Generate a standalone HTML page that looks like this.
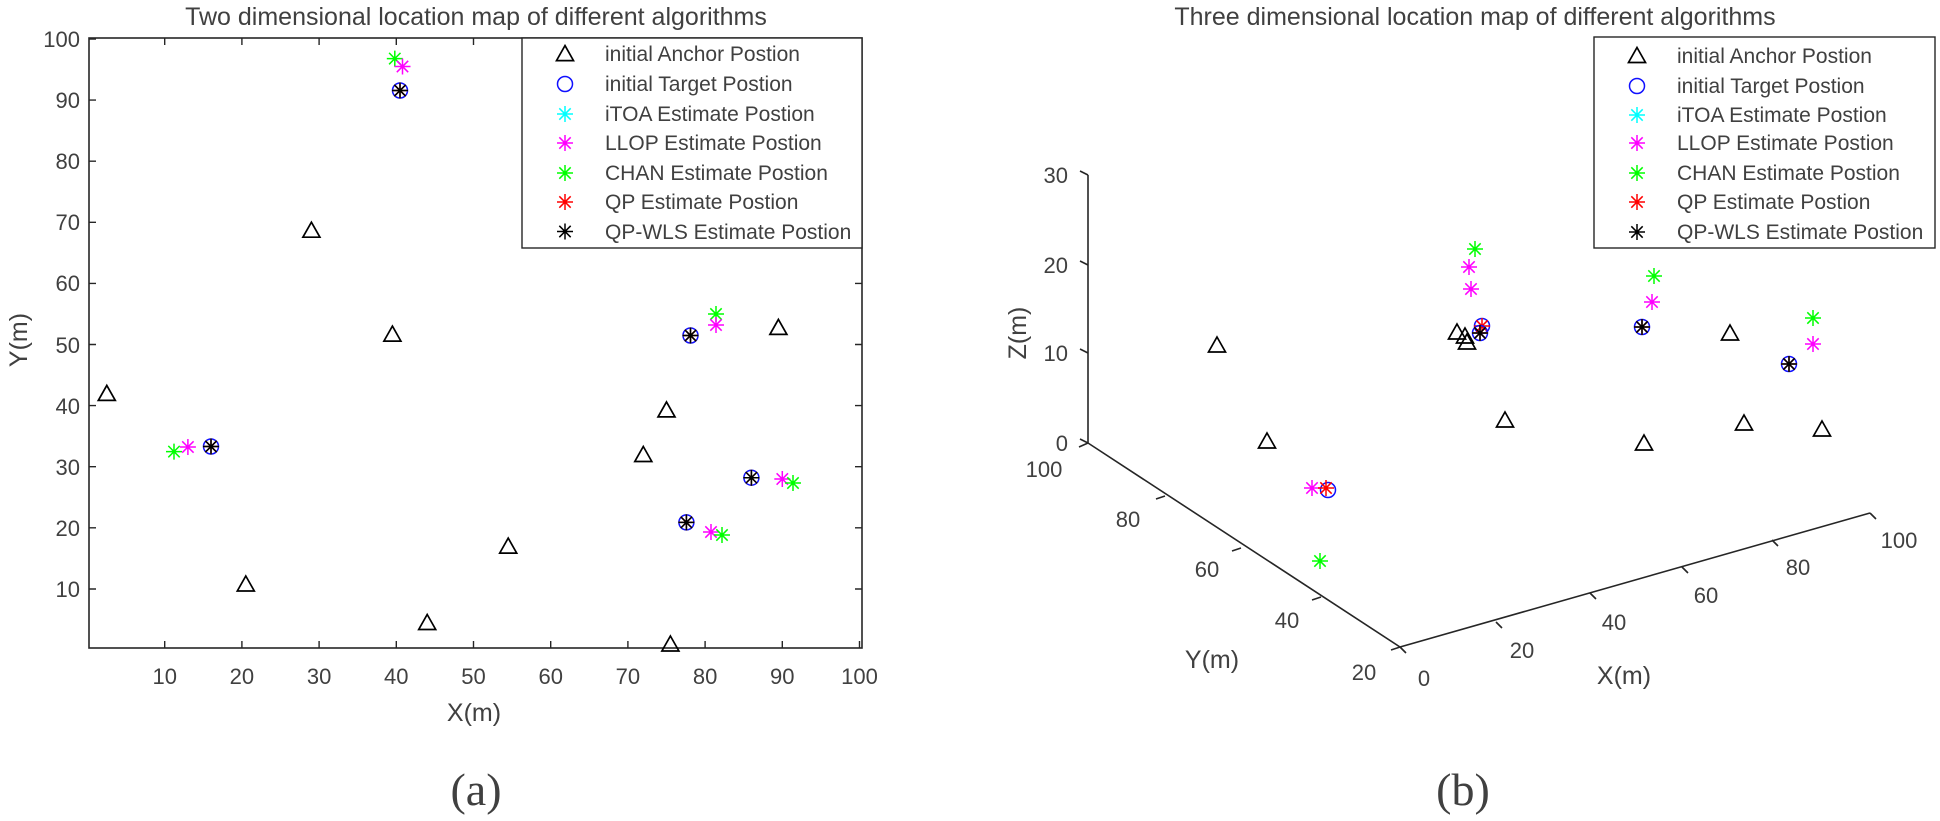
<!DOCTYPE html>
<html><head><meta charset="utf-8"><style>
html,body{margin:0;padding:0;background:#fff;}
svg{display:block;}
text{font-family:"Liberation Sans",sans-serif;fill:#404040;}
</style></head><body>
<svg width="1940" height="821" viewBox="0 0 1940 821" xmlns="http://www.w3.org/2000/svg">
<defs>
<g id="ast" stroke-width="1.5" fill="none"><path d="M-8 0H8M0-8V8M-5.7-5.7L5.7 5.7M-5.7 5.7L5.7-5.7" stroke="currentColor"/></g>
<g id="tri"><path d="M0-8L8.5 7H-8.5Z" fill="none" stroke="#000" stroke-width="1.7"/></g>
<g id="cir"><circle r="7.5" fill="none" stroke="#1010ff" stroke-width="1.5"/></g>
<g id="tgt"><use href="#cir"/><use href="#ast" color="#00ffff"/><use href="#ast" color="#ff0000"/><use href="#ast" color="#000"/></g>
</defs>

<!-- LEFT PLOT -->
<text x="476" y="25" font-size="25" text-anchor="middle" fill="#222">Two dimensional location map of different algorithms</text>
<rect x="89" y="38" width="773" height="610" fill="none" stroke="#262626" stroke-width="1.6"/>
<g stroke="#262626" stroke-width="1.4">
<path d="M164.7 648v-7M241.9 648v-7M319.1 648v-7M396.3 648v-7M473.5 648v-7M550.7 648v-7M627.9 648v-7M705.1 648v-7M782.3 648v-7M859.5 648v-7"/>
<path d="M164.7 38v7M241.9 38v7M319.1 38v7M396.3 38v7M473.5 38v7"/>
<path d="M89 589h7M89 527.8h7M89 466.7h7M89 405.6h7M89 344.5h7M89 283.4h7M89 222.3h7M89 161.2h7M89 100.1h7M89 39h7"/>
<path d="M862 589h-7M862 527.8h-7M862 466.7h-7M862 405.6h-7M862 344.5h-7M862 283.4h-7"/>
</g>
<g font-size="22" text-anchor="middle">
<text x="164.7" y="684">10</text><text x="241.9" y="684">20</text><text x="319.1" y="684">30</text><text x="396.3" y="684">40</text><text x="473.5" y="684">50</text><text x="550.7" y="684">60</text><text x="627.9" y="684">70</text><text x="705.1" y="684">80</text><text x="782.3" y="684">90</text><text x="859.5" y="684">100</text>
</g>
<g font-size="22" text-anchor="end">
<text x="80" y="597">10</text><text x="80" y="536">20</text><text x="80" y="475">30</text><text x="80" y="414">40</text><text x="80" y="353">50</text><text x="80" y="291">60</text><text x="80" y="230">70</text><text x="80" y="169">80</text><text x="80" y="108">90</text><text x="80" y="47">100</text>
</g>
<text x="474" y="721" font-size="25" text-anchor="middle">X(m)</text>
<text transform="translate(27,340) rotate(-90)" font-size="25" text-anchor="middle">Y(m)</text>
<text x="476" y="805" font-size="46" text-anchor="middle" style="font-family:'Liberation Serif',serif" fill="#000">(a)</text>

<!-- left data -->
<use href="#tri" x="311.4" y="230.2"/><use href="#tri" x="392.4" y="334.1"/><use href="#tri" x="106.8" y="393.4"/>
<use href="#tri" x="666.5" y="409.9"/><use href="#tri" x="643.3" y="454.5"/><use href="#tri" x="508.2" y="546.1"/>
<use href="#tri" x="245.8" y="584"/><use href="#tri" x="427.2" y="622.5"/><use href="#tri" x="670.4" y="644"/>
<use href="#tri" x="778.4" y="327.4"/>
<use href="#ast" x="394.8" y="58.6" color="#00ff00"/><use href="#ast" x="402.5" y="66.5" color="#ff00ff"/><use href="#tgt" x="400" y="90.5"/>
<use href="#ast" x="174" y="451.6" color="#00ff00"/><use href="#ast" x="187.9" y="447" color="#ff00ff"/><use href="#tgt" x="211" y="446.5"/>
<use href="#ast" x="716" y="314" color="#00ff00"/><use href="#ast" x="716" y="325" color="#ff00ff"/><use href="#tgt" x="690.5" y="335.5"/>
<use href="#ast" x="782.3" y="479" color="#ff00ff"/><use href="#ast" x="793" y="483" color="#00ff00"/><use href="#tgt" x="751.4" y="477.7"/>
<use href="#ast" x="711" y="532" color="#ff00ff"/><use href="#ast" x="722" y="535" color="#00ff00"/><use href="#tgt" x="686.4" y="522.4"/>

<!-- left legend -->
<rect x="522" y="38" width="340" height="210" fill="#fff" stroke="#262626" stroke-width="1.4"/>
<use href="#tri" x="565" y="53.6"/><use href="#cir" x="565" y="84"/><use href="#ast" x="565" y="114" color="#00ffff"/><use href="#ast" x="565" y="143" color="#ff00ff"/><use href="#ast" x="565" y="173" color="#00ff00"/><use href="#ast" x="565" y="202" color="#ff0000"/><use href="#ast" x="565" y="231.5" color="#000"/>
<g font-size="21" fill="#222">
<text x="605" y="61">initial Anchor Postion</text><text x="605" y="91">initial Target Postion</text><text x="605" y="121">iTOA Estimate Postion</text><text x="605" y="150">LLOP Estimate Postion</text><text x="605" y="180">CHAN Estimate Postion</text><text x="605" y="209">QP Estimate Postion</text><text x="605" y="239">QP-WLS Estimate Postion</text>
</g>

<!-- RIGHT PLOT -->
<text x="1475" y="25" font-size="25" text-anchor="middle" fill="#222">Three dimensional location map of different algorithms</text>
<g stroke="#262626" stroke-width="1.6" fill="none">
<path d="M1088 175V443L1400 647L1870 513"/>
<path d="M1088 175l-8-4M1088 265l-8-4M1088 353l-8-4M1088 443l-8-4"/>
<path d="M1088 443l-9 4M1165 496l-9 3M1241 548l-9 3M1321 597l-9 3M1400 647l-9 3"/>
<path d="M1400 647l6 6M1496 622l6 6M1590 593l6 6M1682 567l6 6M1772 540l6 6M1870 513l6 6"/>
</g>
<g font-size="22">
<g text-anchor="end"><text x="1068" y="183">30</text><text x="1068" y="273">20</text><text x="1068" y="361">10</text><text x="1068" y="451">0</text></g>
<g text-anchor="middle">
<text x="1044" y="477">100</text><text x="1128" y="527">80</text><text x="1207" y="577">60</text><text x="1287" y="628">40</text><text x="1364" y="680">20</text>
<text x="1424" y="686">0</text><text x="1522" y="658">20</text><text x="1614" y="630">40</text><text x="1706" y="603">60</text><text x="1798" y="575">80</text><text x="1899" y="548">100</text>
</g></g>
<text x="1212" y="668" font-size="25" text-anchor="middle">Y(m)</text>
<text x="1624" y="684" font-size="25" text-anchor="middle">X(m)</text>
<text transform="translate(1026,333) rotate(-90)" font-size="25" text-anchor="middle">Z(m)</text>
<text x="1463" y="805" font-size="46" text-anchor="middle" style="font-family:'Liberation Serif',serif" fill="#000">(b)</text>

<!-- right data -->
<use href="#tri" x="1217" y="345"/><use href="#tri" x="1267" y="441"/><use href="#tri" x="1457" y="332"/><use href="#tri" x="1465" y="336"/><use href="#tri" x="1467" y="342"/>
<use href="#tri" x="1505" y="420"/><use href="#tri" x="1730" y="333"/><use href="#tri" x="1644" y="443"/><use href="#tri" x="1744" y="423"/><use href="#tri" x="1822" y="429"/>
<use href="#ast" x="1475" y="249" color="#00ff00"/><use href="#ast" x="1469" y="267" color="#ff00ff"/><use href="#ast" x="1471" y="289" color="#ff00ff"/>
<use href="#cir" x="1482" y="326"/><use href="#ast" x="1482" y="326" color="#ff0000"/><use href="#tgt" x="1480" y="333"/>
<use href="#ast" x="1312" y="488" color="#ff00ff"/><use href="#ast" x="1320" y="561" color="#00ff00"/><use href="#cir" x="1328" y="490"/><use href="#ast" x="1326" y="488" color="#ff0000"/>
<use href="#ast" x="1654" y="276" color="#00ff00"/><use href="#ast" x="1652" y="302" color="#ff00ff"/><use href="#tgt" x="1642" y="327"/>
<use href="#ast" x="1813" y="318" color="#00ff00"/><use href="#ast" x="1813" y="344" color="#ff00ff"/><use href="#tgt" x="1789" y="364"/>

<!-- right legend -->
<rect x="1594" y="37" width="341" height="211" fill="#fff" stroke="#262626" stroke-width="1.4"/>
<use href="#tri" x="1637" y="55.5"/><use href="#cir" x="1637" y="86"/><use href="#ast" x="1637" y="115" color="#00ffff"/><use href="#ast" x="1637" y="143" color="#ff00ff"/><use href="#ast" x="1637" y="173" color="#00ff00"/><use href="#ast" x="1637" y="202" color="#ff0000"/><use href="#ast" x="1637" y="232" color="#000"/>
<g font-size="21" fill="#222">
<text x="1677" y="63">initial Anchor Postion</text><text x="1677" y="93">initial Target Postion</text><text x="1677" y="122">iTOA Estimate Postion</text><text x="1677" y="150">LLOP Estimate Postion</text><text x="1677" y="180">CHAN Estimate Postion</text><text x="1677" y="209">QP Estimate Postion</text><text x="1677" y="239">QP-WLS Estimate Postion</text>
</g>
</svg>
</body></html>
